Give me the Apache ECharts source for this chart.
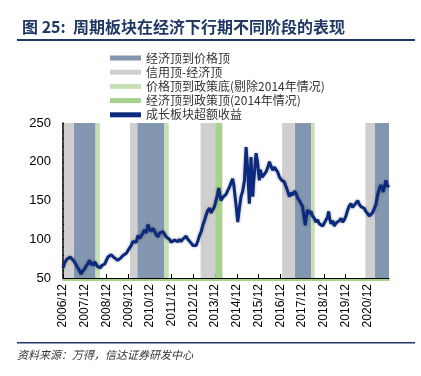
<!DOCTYPE html>
<html style="height: 100%">
   <head>
       <meta charset="utf-8">
   </head>
   <body style="height: 100%; margin: 0">
       <div id="container" style="width: 421px; height: 376px"></div>
       <script type="text/javascript" src="https://cdn.jsdelivr.net/npm/echarts@6/dist/echarts.min.js"></script>
       <script type="text/javascript">
// x = months since 2006/12
var months = [0, 1, 2, 3, 4, 5, 6, 7, 8, 9, 10, 10.6, 11, 12, 13, 14, 14.7, 15.4, 16, 16.8, 17.5, 18.4, 19, 19.8,
    20.6, 21.4, 22.1, 23, 24, 24.8, 25.8, 26.6, 27.6, 28.4, 29.4, 30.2, 31.2, 32, 33.1, 34, 35, 35.8, 36.8, 37.7,
    38.6, 39.5, 40.4, 41.4, 42.3, 43.2, 44.1, 45, 46, 46.9, 47.8, 48.7, 49.6, 50.5, 51.4, 52.4, 53.3, 54.2, 55.2,
    56.1, 57, 57.9, 58.8, 59.7, 60.7, 61.6, 62.5, 63.4, 64.3, 65.2, 66.1, 67.1, 68, 68.9, 69.8, 70.8, 71.7, 72.6,
    73.5, 74.5, 75.4, 76.3, 77.2, 78.1, 79, 79.9, 80.9, 81.8, 82.7, 83.6, 84.5, 85.3, 86, 86.6, 87.3, 88.2, 89.1,
    90, 91, 92, 93, 93.7, 94.3, 94.7, 95.5, 96.5, 97.4, 98.3, 99.2, 100.2, 100.7, 101.1, 101.5, 102, 102.5, 102.9,
    103.4, 103.8, 104.3, 104.8, 105.2, 105.7, 106.2, 106.6, 107.1, 107.5, 108, 108.4, 108.9, 109.4, 109.9, 110.3,
    111.2, 112.1, 113, 114, 114.9, 115.8, 116.7, 117.6, 118.5, 119.5, 120.8, 122.2, 123.6, 125, 125.9, 126.8,
    127.8, 128.7, 129.6, 130.5, 131.4, 132.3, 133, 133.8, 134.4, 135.1, 136, 136.9, 137.8, 138.8, 139.7, 140.6,
    141.5, 142.4, 143.4, 144.3, 145.2, 146, 146.7, 147.3, 148, 148.9, 149.8, 150.8, 151.7, 152.6, 153.5, 154.4,
    155.3, 156.2, 157.2, 158.1, 159, 159.9, 160.8, 161.8, 162.7, 163.6, 164.5, 165.4, 166.3, 167.2, 168.2, 169.1,
    170, 170.9, 171.9, 172.8, 173.7, 174.6, 175.5, 176.2, 176.8, 177.5, 178.3, 179.1, 180];
var values = [63, 70, 74, 75, 77, 76, 72, 70, 64, 60, 55, 58, 57, 62, 66, 70, 73, 67, 70, 66, 71, 69, 65, 67,
    63, 66, 64, 68, 73, 77, 76, 80, 81, 76, 78, 73, 71, 76, 79, 78, 82, 84, 89, 92,
    97, 99, 96, 105, 101, 104, 108, 112, 108, 119, 113, 110, 114, 111, 106, 103, 108, 106, 110,
    108, 103, 105, 100, 96, 94, 99, 101, 97, 100, 97, 100, 101, 104, 100, 99, 95, 92, 94,
    92, 98, 105, 110, 118, 124, 131, 137, 140, 134, 138, 142, 150, 158, 166, 157, 150, 154, 152,
    158, 163, 168, 174, 178, 170, 168, 145, 122, 140, 155, 162, 176, 200, 219, 205, 189, 165, 146,
    180, 206, 180, 155, 172, 185, 200, 211, 204, 198, 185, 176, 190, 189, 180, 178,
    184, 187, 192, 200, 194, 189, 193, 191, 187, 180, 176, 174, 165, 155, 160, 157,
    162, 159, 153, 150, 146, 142, 130, 118, 130, 138, 133, 136, 130, 127, 122, 125,
    120, 120, 117, 116, 125, 128, 136, 126, 120, 124, 117, 121, 120, 124, 127, 122,
    125, 130, 138, 143, 146, 141, 142, 147, 150, 145, 142, 144, 140, 136, 133, 130,
    129, 134, 136, 145, 157, 165, 170, 165, 161, 168, 176, 168, 170];

var names = ['经济顶到价格顶', '信用顶-经济顶', '价格顶到政策底(剔除2014年情况)', '经济顶到政策顶(2014年情况)', '成长板块超额收益'];
// band ranges (months since 2006/12)
var bandEconToPrice = [[6, 18], [41, 56], [128, 137], [172, 180]];
var bandCreditToEcon = [[0.6, 6], [37, 41], [76, 84], [121, 128], [167, 172]];
var bandPriceToPolicy = [[18, 20.4], [56, 58.4], [137, 139]];
var bandPolicy2014 = [[84, 88]];

var bandColors = ['#8497B0', '#D0CECE', '#C5E0B4', '#A9D18E'];

var dom = document.getElementById("container");
var myChart = echarts.init(dom);

function bandSeries(name, ranges, color) {
    return {
        name: name,
        type: 'line',
        data: [],
        itemStyle: { color: color },
        markArea: {
            silent: true,
            itemStyle: { color: color },
            data: ranges.map(function (r) {
                return [{ xAxis: r[0] }, { xAxis: r[1] }];
            })
        }
    };
}

var option = {
    animation: false,
    title: {
        text: '图 25:  周期板块在经济下行期不同阶段的表现',
        left: 17,
        top: 14,
        textStyle: { fontSize: 16, fontWeight: 'bold', color: '#1F3864', fontFamily: 'Noto Sans CJK SC' }
    },
    graphic: [
        { type: 'rect', shape: { x: 17, y: 39, width: 398, height: 2 }, style: { fill: '#1F3864' } },
        { type: 'rect', shape: { x: 17, y: 342, width: 398, height: 1.5 }, style: { fill: '#1F3864' } },
        { type: 'text', left: 17, top: 349, style: { text: '资料来源：万得，信达证券研发中心', fill: '#333',
            font: 'italic 11px "Noto Sans CJK SC"' } }
    ],
    legend: {
        orient: 'vertical',
        left: 110,
        top: 52,
        padding: 0,
        itemWidth: 31,
        itemHeight: 5,
        itemGap: 2.2,
        textStyle: { fontSize: 12, color: '#333', fontFamily: 'Noto Sans CJK SC' },
        data: [
            { name: names[0], icon: 'rect' },
            { name: names[1], icon: 'rect' },
            { name: names[2], icon: 'rect' },
            { name: names[3], icon: 'rect' },
            { name: names[4], icon: 'rect' }
        ]
    },
    grid: { left: 63, right: 32, top: 123, bottom: 98 },
    xAxis: [{
        type: 'value',
        min: 0,
        max: 180,
        interval: 12,
        splitLine: { show: false },
        axisLine: { lineStyle: { color: '#000', width: 1 } },
        axisTick: { inside: true, length: 4, lineStyle: { color: '#000' } },
        axisLabel: {
            rotate: 90,
            showMaxLabel: false,
            fontSize: 12,
            color: '#000',
            fontFamily: 'Liberation Sans',
            margin: 6,
            formatter: function (v) { return (2006 + v / 12) + '/12'; }
        }
    }, {
        type: 'value',
        min: 0,
        max: 180,
        position: 'bottom',
        offset: 1.5,
        splitLine: { show: false },
        axisLine: { lineStyle: { color: '#A9D18E', width: 2 } },
        axisTick: { show: false },
        axisLabel: { show: false }
    }],
    yAxis: {
        type: 'value',
        min: 50,
        max: 250,
        interval: 50,
        minorTick: { show: true, splitNumber: 5, length: 3, lineStyle: { color: '#000' } },
        splitLine: { show: false },
        axisLine: { show: true, lineStyle: { color: '#000', width: 1.5 } },
        axisTick: { inside: true, length: 4, lineStyle: { color: '#000' } },
        axisLabel: { fontSize: 13, color: '#000', fontFamily: 'Liberation Sans', margin: 12 }
    },
    series: [
        bandSeries(names[0], bandEconToPrice, bandColors[0]),
        bandSeries(names[1], bandCreditToEcon, bandColors[1]),
        bandSeries(names[2], bandPriceToPolicy, bandColors[2]),
        bandSeries(names[3], bandPolicy2014, bandColors[3]),
        {
            name: names[4],
            type: 'line',
            symbol: 'none',
            z: 5,
            lineStyle: { color: '#0B2A7F', width: 3, shadowBlur: 3, shadowColor: 'rgba(0,0,0,0.35)' },
            itemStyle: { color: '#0B2A7F' },
            data: months.map(function (m, i) { return [m, values[i]]; })
        }
    ]
};
myChart.setOption(option);
       </script>
   </body>
</html>
